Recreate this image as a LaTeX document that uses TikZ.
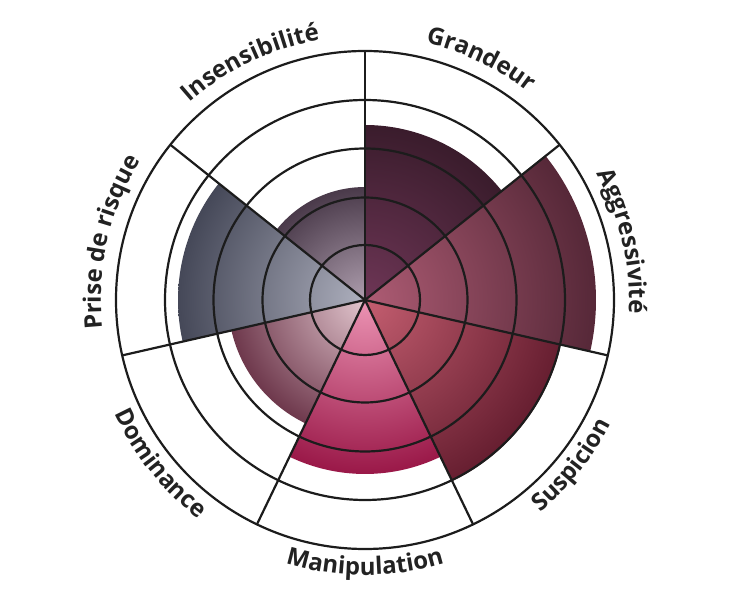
\documentclass[tikz,border=0pt]{standalone}
\usepackage{fontspec}
\newfontfamily\lblfont{Open Sans}
\usetikzlibrary{decorations.text}
\definecolor{gridc}{HTML}{1C1C1C}
\definecolor{txtc}{HTML}{222222}
\definecolor{grIn}{HTML}{6E3656}\definecolor{grOut}{HTML}{3A1C2C}
\definecolor{agIn}{HTML}{AE5C74}\definecolor{agOut}{HTML}{562838}
\definecolor{suIn}{HTML}{C45E70}\definecolor{suOut}{HTML}{661E30}
\definecolor{maIn}{HTML}{EC94B4}\definecolor{maOut}{HTML}{9A1848}
\definecolor{doIn}{HTML}{E2C6CE}\definecolor{doOut}{HTML}{6E384C}
\definecolor{prIn}{HTML}{AEB0BE}\definecolor{prOut}{HTML}{454858}
\definecolor{inIn}{HTML}{AE9EAE}\definecolor{inOut}{HTML}{4A3A4A}
\newcommand\polarsector[5]{%
  \begin{scope}
    \clip (0,0) -- ({#1}:#3) arc[start angle=#1,end angle=#2,radius=#3] -- cycle;
    \shade[inner color=#4,outer color=#5] (0,0) circle[radius=#3];
  \end{scope}}
\newcommand\lblstyle{\lblfont\bfseries\fontsize{24}{28}\selectfont}
\newcommand\toplabel[2]{%
  \path[decorate,decoration={text along path,text color=txtc,
    text={|\lblstyle|#2},text align=center}]
    ({#1+45}:264) arc[start angle=#1+45,end angle=#1-45,radius=264];}
\newcommand\botlabel[2]{%
  \path[decorate,decoration={text along path,text color=txtc,
    text={|\lblstyle|#2},text align=center}]
    ({#1-45}:275) arc[start angle=#1-45,end angle=#1+45,radius=275];}
\tikzset{gridline/.style={draw=gridc,line width=2.2pt}}
\begin{document}
\begin{tikzpicture}[x=1pt,y=1pt]
\useasboundingbox (0,0) rectangle (732,600);
\begin{scope}[shift={(365,300)}]
  \polarsector{38.571}{90}{175}{grIn}{grOut}
  \polarsector{-12.857}{38.571}{231}{agIn}{agOut}
  \polarsector{-64.286}{-12.857}{201}{suIn}{suOut}
  \polarsector{-115.714}{-64.286}{174}{maIn}{maOut}
  \polarsector{-167.143}{-115.714}{137}{doIn}{doOut}
  \polarsector{141.429}{192.857}{187}{prIn}{prOut}
  \polarsector{90}{141.429}{113}{inIn}{inOut}
  \foreach \r in {55,102.5,151.5,200,249}
    \draw[gridline] (0,0) circle[radius=\r];
  \foreach \a in {90,38.571,-12.857,-64.286,-115.714,-167.143,141.429}
    \draw[gridline] (0,0) -- (\a:249);
  \toplabel{64.286}{Grandeur}
  \toplabel{12.857}{Aggressivité}
  \botlabel{-38.571}{Suspicion}
  \botlabel{-90}{Manipulation}
  \botlabel{-141.429}{Dominance}
  \toplabel{167.143}{Prise de risque}
  \toplabel{115.714}{Insensibilité}
\end{scope}
\end{tikzpicture}
\end{document}
